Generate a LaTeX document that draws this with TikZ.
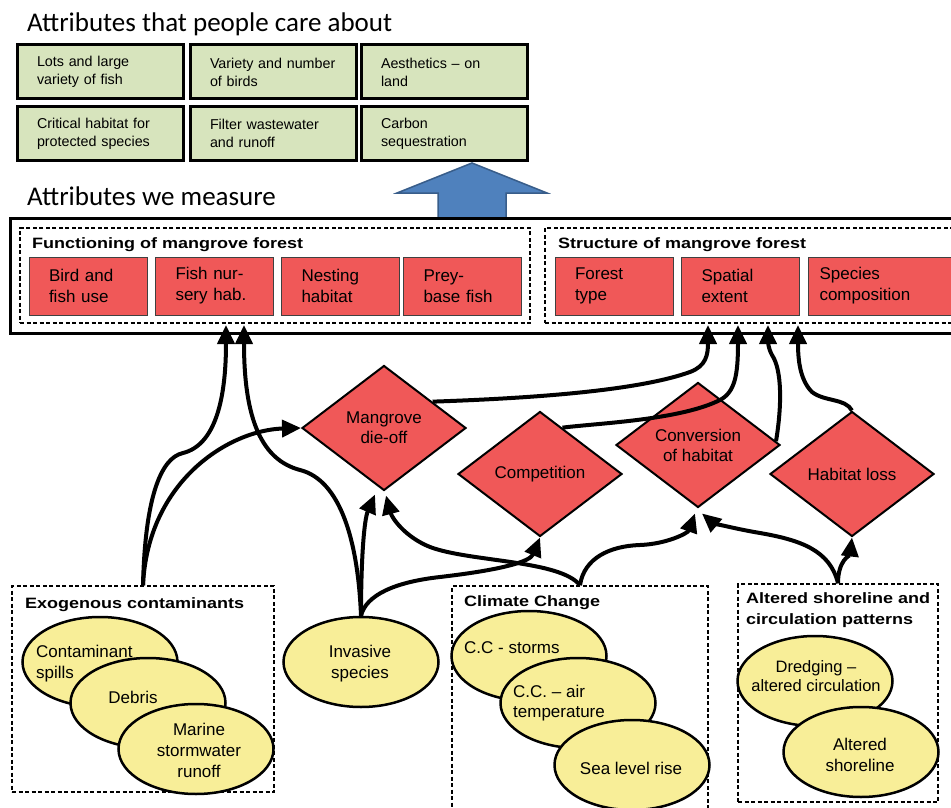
\documentclass[tikz,border=0pt]{standalone}
\usepackage{fontspec}
\setmainfont{Liberation Sans}
\newfontfamily\titlefont{Carlito}
\newfontfamily\lblfont[FakeStretch=1.2]{Liberation Sans}
\usetikzlibrary{shapes.geometric,arrows.meta,calc}
\definecolor{boxgreen}{RGB}{215,228,189}
\definecolor{boxred}{RGB}{240,88,88}
\definecolor{ellyellow}{RGB}{248,238,152}
\definecolor{arrowblue}{RGB}{79,129,189}
\definecolor{arrowedge}{RGB}{56,93,138}
\begin{document}
\begin{tikzpicture}[x=1pt,y=-1pt,
  greenbox/.style={draw=black, line width=3pt, fill=boxgreen, minimum height=54pt, text width=126pt, inner xsep=20pt, inner ysep=0pt, align=left, font=\fontsize{14.3}{18}\selectfont},
  redbox/.style={draw=black!75, line width=1pt, fill=boxred, minimum height=58pt, text width=78pt, inner xsep=20pt, inner ysep=0pt, align=left, font=\fontsize{17}{21}\selectfont},
  diam/.style={diamond, draw=black, line width=2pt, fill=boxred, minimum width=164pt, minimum height=125pt, inner sep=0pt, align=center, font=\fontsize{17}{20}\selectfont},
  ell/.style={ellipse, draw=black, line width=2.5pt, fill=ellyellow, minimum width=155pt, minimum height=90pt, inner sep=0pt},
  etext/.style={inner sep=0pt, font=\fontsize{17}{21}\selectfont},
  dbox/.style={draw=black, line width=1.5pt, dash pattern=on 4pt off 2.5pt, inner sep=0pt},
  lbl/.style={inner sep=0pt, align=left, font=\lblfont\bfseries\fontsize{15}{21}\selectfont},
  ttl/.style={inner sep=0pt, anchor=base west, font=\titlefont\fontsize{27}{30}\selectfont},
  conn/.style={line width=4pt, -{Triangle[length=19pt,width=17pt]}}
]
\useasboundingbox (0,0) rectangle (951,808);
\clip (0,0) rectangle (951,808);

% titles
\node[ttl] (title1) at (27,32) {Attributes that people care about};
\node[ttl] (title2) at (27,205) {Attributes we measure};

% green boxes
\node[greenbox] (g1) at (100,72) {Lots and large\\variety of fish\\[3pt]};
\node[greenbox] (g2) at (273,72) {Variety and number\\of birds\\[5pt]};
\node[greenbox] (g3) at (444,72) {Aesthetics -- on\\land\\[3pt]};
\node[greenbox] (g4) at (100,133.5) {Critical habitat for\\protected species\\[3pt]};
\node[greenbox] (g5) at (273,133.5) {Filter wastewater\\and runoff\\[3pt]};
\node[greenbox] (g6) at (444,133.5) {Carbon\\sequestration\\[3pt]};

% blue arrow
\draw[fill=arrowblue, draw=arrowedge, line width=1.5pt, line join=miter]
  (438,219) -- (438,193) -- (397,193) -- (472,163) -- (547,193) -- (506,193) -- (506,219) -- cycle;

% measured attributes
\node[draw=black, line width=3pt, minimum width=960pt, minimum height=115pt, inner sep=0pt] (meas) at (490,275.5) {};
\node[dbox, minimum width=510pt, minimum height=95pt] (func) at (275,275.5) {};
\node[dbox, minimum width=430pt, minimum height=95pt] (struct) at (760,275.5) {};
\node[lbl, anchor=west] (funclbl) at (32,245) {Functioning of mangrove forest};
\node[lbl, anchor=west] (structlbl) at (558,245) {Structure of mangrove forest};

\node[redbox] (bird) at (88,286) {Bird and\\fish use};
\node[redbox] (nursery) at (214.5,286) {Fish nur-\\sery hab.};
\node[redbox] (nesting) at (340.5,286) {Nesting\\habitat};
\node[redbox] (prey) at (462.5,286) {Prey-\\base fish};
\node[redbox] (ftype) at (614,286) {Forest\\type};
\node[redbox] (spatial) at (740.5,286) {Spatial\\extent};
\node[redbox, anchor=west, text width=140pt, inner xsep=11pt] (species) at (808,286) {Species\\composition};

\coordinate (t1) at (226,325);
\coordinate (t2) at (244,325);
\coordinate (t3) at (708,325);
\coordinate (t4) at (738,325);
\coordinate (t5) at (768,325);
\coordinate (t6) at (798,325);

% diamonds
\node[diam] (dieoff) at (384,428) {Mangrove\\die-off};
\node[diam] (comp) at (540,474) {Competition};
\node[diam] (conv) at (698,445) {Conversion\\of habitat};
\node[diam] (loss) at (852,474) {Habitat loss};

% stressor groups
\node[dbox, minimum width=262pt, minimum height=206pt] (exo) at (143,689) {};
\node[lbl, anchor=west] (exolbl) at (25,605) {Exogenous contaminants};
\node[ell] (spills) at (100,662) {};
\node[etext, anchor=west, align=left] (spillsT) at (36,664) {Contaminant\\spills};
\node[ell] (debris) at (148,703) {};
\node[etext] (debrisT) at (133,697) {Debris};
\node[ell] (marine) at (196,749) {};
\node[etext, align=center] (marineT) at (199,750) {Marine\\stormwater\\runoff};

\node[ell] (inv) at (361,662) {};
\node[etext, align=center] (invT) at (360,663.5) {Invasive\\species};

\node[dbox, minimum width=256pt, minimum height=240pt] (cc) at (580,706) {};
\node[lbl, anchor=west] (cclbl) at (464,603) {Climate Change};
\node[ell] (storms) at (529,656) {};
\node[etext, anchor=west] (stormsT) at (464,648) {C.C - storms};
\node[ell] (air) at (578,703) {};
\node[etext, anchor=west, align=left, font=\fontsize{17}{20}\selectfont] (airT) at (513,703) {C.C. -- air\\temperature};
\node[ell] (sea) at (632,765) {};
\node[etext] (seaT) at (631,768) {Sea level rise};

\node[dbox, minimum width=200pt, minimum height=218pt] (alt) at (838,693) {};
\node[lbl, anchor=west] (altlbl) at (746,610.5) {Altered shoreline and\\circulation patterns};
\node[ell] (dredge) at (815,681) {};
\node[etext, align=center, font=\fontsize{16.5}{19}\selectfont] (dredgeT) at (816,676) {Dredging --\\altered circulation};
\node[ell] (shore) at (861,752) {};
\node[etext, align=center] (shoreT) at (860,754.5) {Altered\\shoreline};

% connectors
\draw[conn] (exo.north) .. controls (145,500) and (160,458) .. (183,453) .. controls (215,445) and (226,400) .. (t1);
\draw[conn] (exo.north) .. controls (148,480) and (230,430) .. (dieoff.west);
\draw[conn] (inv.north) .. controls (358,540) and (340,480) .. (300,470) .. controls (262,460) and (244,420) .. (t2);
\draw[conn] (inv.north) .. controls (361,560) and (364,520) .. ($(dieoff.south)+(-9,3)$);
\draw[conn] (inv.north) .. controls (366,595) and (395,582) .. (440,577) .. controls (500,570) and (530,562) .. (comp.south);
\draw[conn] (cc.north) .. controls (560,560) and (470,562) .. (430,547) .. controls (405,537) and (392,518) .. ($(dieoff.south)+(2,4)$);
\draw[conn] (cc.north) .. controls (584,558) and (610,546) .. (640,545) .. controls (667,544) and (688,533) .. ($(conv.south)+(-3,5)$);
\draw[conn] (alt.north) .. controls (830,550) and (800,540) .. (760,533) .. controls (730,528) and (712,522) .. ($(conv.south)+(4,5)$);
\draw[conn] (alt.north) .. controls (838,560) and (850,555) .. (loss.south);
\draw[conn] ($(dieoff.north)!0.585!(dieoff.east)$) .. controls (540,398) and (640,390) .. (690,372) .. controls (706,366) and (708,355) .. (t3);
\draw[conn] ($(comp.north)!0.27!(comp.east)$) .. controls (600,423) and (680,420) .. (720,400) .. controls (735,392) and (738,375) .. (t4);
\draw[conn] ($(conv.north)!0.94!(conv.east)$) .. controls (782,405) and (782,370) .. (772,355) .. controls (768,348) and (768,340) .. (t5);
\draw[conn] (loss.north) .. controls (845,398) and (825,402) .. (812,392) .. controls (800,380) and (798,360) .. (t6);
\end{tikzpicture}
\end{document}
